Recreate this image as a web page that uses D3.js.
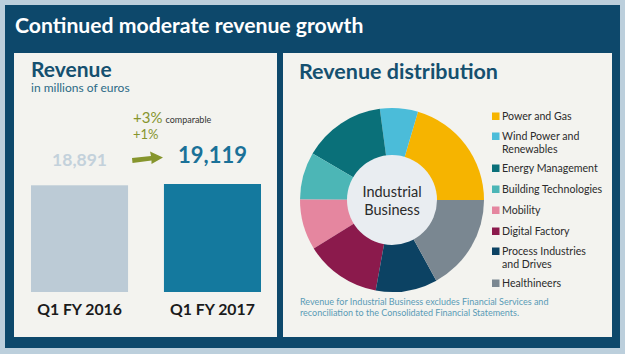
<!DOCTYPE html>
<html><head><meta charset="utf-8">
<script src="https://cdn.jsdelivr.net/npm/d3@7/dist/d3.min.js"></script>
<style>
html,body{margin:0;padding:0;background:#bccfdc;}
svg{display:block;font-family:Lato,"Noto Sans",sans-serif;}
</style></head>
<body>
<svg id="c" width="625" height="354"></svg>
<script>
const title = "Continued moderate revenue growth";
const periods = ["Q1 FY 2016", "Q1 FY 2017"];
const revenue = [18891, 19119];
const revenueLabels = ["18,891", "19,119"];
const growthMain = "+3%";
const growthNote = "comparable";
const growthNominal = "+1%";
const segments = ["Power and Gas", "Wind Power and|Renewables", "Energy Management", "Building Technologies", "Mobility", "Digital Factory", "Process Industries|and Drives", "Healthineers"];
const segmentRevenue = [3860, 1260, 2730, 1575, 1680, 2520, 2045, 3210];
const segmentColors = ["#f6b400", "#4bbcd9", "#0a7079", "#4cb6b6", "#e5869f", "#8b1a4c", "#0c4263", "#7a8791"];
const footnote = ["Revenue for Industrial Business excludes Financial Services and", "reconciliation to the Consolidated Financial Statements."];

const svg = d3.select("#c");
svg.append("rect").attr("width",625).attr("height",354).attr("fill","#bccfdc");
svg.append("rect").attr("x",5).attr("y",5).attr("width",615).attr("height",343).attr("fill","#0d486b");
svg.append("text").attr("x",15).attr("y",33).attr("fill","#ffffff")
  .attr("font-size",21.2).attr("font-weight",700).text(title);

// cards
svg.append("rect").attr("x",14).attr("y",53).attr("width",263).attr("height",284).attr("fill","#f3f3ef");
svg.append("rect").attr("x",283).attr("y",53).attr("width",329).attr("height",284).attr("fill","#f3f3ef");

// Left card
svg.append("text").attr("x",31).attr("y",76.5).attr("fill","#15506f").attr("font-size",21).attr("font-weight",700).text("Revenue");
svg.append("text").attr("x",31).attr("y",92).attr("fill","#2c6a86").attr("font-size",12).text("in millions of euros");

const x = d3.scaleBand().domain(periods).range([31, 261]).paddingInner(0.27).paddingOuter(0);
const y = d3.scaleLinear().domain([0, 19119]).range([292, 184]);
const barColors = ["#bccbd6", "#14799e"];
const g = svg.append("g");
g.selectAll("rect.bar").data(periods).join("rect").attr("class","bar")
  .attr("x", d => x(d)).attr("width", x.bandwidth())
  .attr("y", (d,i) => y(revenue[i])).attr("height", (d,i) => y(0) - y(revenue[i]))
  .attr("fill", (d,i) => barColors[i]);
g.selectAll("text.cat").data(periods).join("text").attr("class","cat")
  .attr("x", d => x(d) + x.bandwidth()/2).attr("y", 315).attr("text-anchor","middle")
  .attr("font-size",15.8).attr("font-weight",700).attr("fill","#1b1b1b").text(d => d);
const valColors = ["#c3d1db", "#1a7198"];
const valSizes = [17.5, 22];
g.selectAll("text.val").data(periods).join("text").attr("class","val")
  .attr("x", d => x(d) + x.bandwidth()/2).attr("y", (d,i) => i===0 ? 166 : 163).attr("text-anchor","middle")
  .attr("font-size",(d,i)=>valSizes[i]).attr("font-weight",700).attr("fill",(d,i)=>valColors[i]).text((d,i)=>revenueLabels[i]);

const olive = "#86952d";
const gt = svg.append("text").attr("x",133).attr("y",123).attr("fill",olive).attr("font-size",15);
gt.append("tspan").text(growthMain);
gt.append("tspan").attr("dx",3).attr("font-size",9).attr("fill","#333").text(growthNote);
svg.append("text").attr("x",133).attr("y",139).attr("fill",olive).attr("font-size",13).text(growthNominal);
svg.append("path").attr("fill",olive)
  .attr("d","M132,158 L151,156 L150,151.5 L163,157.5 L151.5,164 L151.5,160.5 L132.5,163 Z");

// Right card
svg.append("text").attr("x",299).attr("y",79).attr("fill","#15506f").attr("font-size",21.5).attr("font-weight",700).text("Revenue distribution");

const cx = 392, cy = 200, R = 92, r = 45;
const pie = d3.pie().sort(null).startAngle(Math.PI/2).endAngle(Math.PI/2 - 2*Math.PI);
const arcs = pie(segmentRevenue);
const arc = d3.arc().innerRadius(0).outerRadius(R);
const pg = svg.append("g").attr("transform",`translate(${cx},${cy})`);
pg.selectAll("path").data(arcs).join("path").attr("d",arc).attr("fill",(d,i)=>segmentColors[i]);
pg.append("circle").attr("r",r).attr("fill","#e9edf1");
pg.append("text").attr("text-anchor","middle").attr("y",-3).attr("font-size",14.5).attr("fill","#2a2a2a").text("Industrial");
pg.append("text").attr("text-anchor","middle").attr("y",15).attr("font-size",14.5).attr("fill","#2a2a2a").text("Business");

const legendY = [120, 140, 172, 193, 214, 235, 255, 287];
const lg = svg.append("g");
segments.forEach((s,i) => {
  lg.append("rect").attr("x",492).attr("y",legendY[i]-7.5).attr("width",7.5).attr("height",7.5).attr("fill",segmentColors[i]);
  const t = lg.append("text").attr("x",502).attr("y",legendY[i]).attr("font-size",10.6).attr("fill","#2b2b2b");
  s.split("|").forEach((part,j) => {
    t.append("tspan").attr("x", 502).attr("dy", j===0 ? 0 : 12.8).text(part);
  });
});

footnote.forEach((line,i) => {
  svg.append("text").attr("x",300).attr("y",305 + i*10.5).attr("font-size",9).attr("fill","#5a9bb6").text(line);
});
</script>
</body></html>
